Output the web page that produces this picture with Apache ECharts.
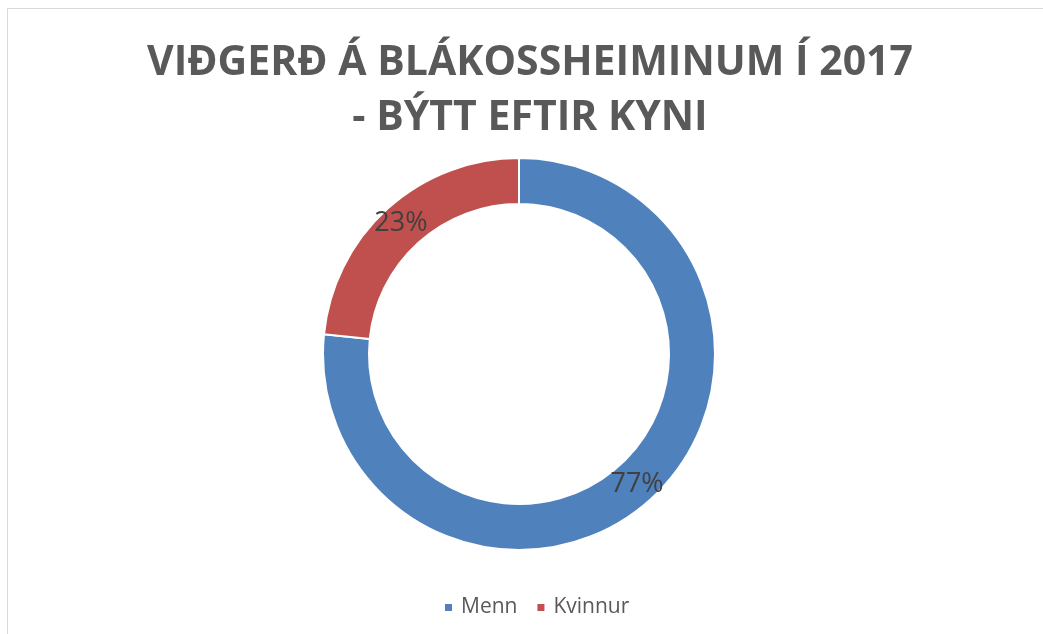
<!DOCTYPE html>
<html>
<head>
<meta charset="utf-8">
<script src="https://cdn.jsdelivr.net/npm/echarts@6/dist/echarts.min.js"></script>
<style>html,body{margin:0;padding:0;background:#fff;}#c{width:1043px;height:634px;}</style>
</head>
<body>
<div id="c"></div>
<script>
const titleLines = ['VIĐGERĐ Á BLÁKOSSHEIMINUM Í 2017', '- BÝTT EFTIR KYNI'];
const categories = ['Menn', 'Kvinnur'];
const values = [76.6, 23.4];
const colors = ['#4F81BD', '#C0504D'];

const chart = echarts.init(document.getElementById('c'), null, {renderer: 'canvas'});
chart.setOption({
  backgroundColor: '#fff',
  animation: false,
  color: colors,
  graphic: [{
    type: 'rect', silent: true,
    shape: {x: 7.5, y: 8.5, width: 1100, height: 700},
    style: {fill: 'none', stroke: '#d9d9d9', lineWidth: 1}
  }],
  title: {
    text: titleLines.join('\n'),
    left: 525, top: 31,
    textAlign: 'center',
    textStyle: {fontFamily: 'Open Sans', fontWeight: 'bold', fontSize: 41, color: '#595959', lineHeight: 55, align: 'center'}
  },
  legend: {
    data: categories,
    top: 592, left: 438,
    icon: 'rect', itemWidth: 9, itemHeight: 9, itemGap: 18,
    textStyle: {fontFamily: 'Open Sans', fontSize: 21, color: '#595959', padding: [0, 0, 0, 3]}
  },
  series: [{
    type: 'pie',
    center: [519, 354],
    radius: [150, 196],
    startAngle: 90,
    clockwise: true,
    avoidLabelOverlap: false,
    itemStyle: {borderColor: '#fff', borderWidth: 2},
    label: {
      show: true, position: 'inside',
      formatter: p => Math.round(p.percent) + '%',
      fontFamily: 'Open Sans', fontSize: 27, color: '#404040'
    },
    labelLine: {show: false},
    emphasis: {disabled: true},
    data: categories.map((c, i) => ({name: c, value: values[i]}))
  }]
});
</script>
</body>
</html>
